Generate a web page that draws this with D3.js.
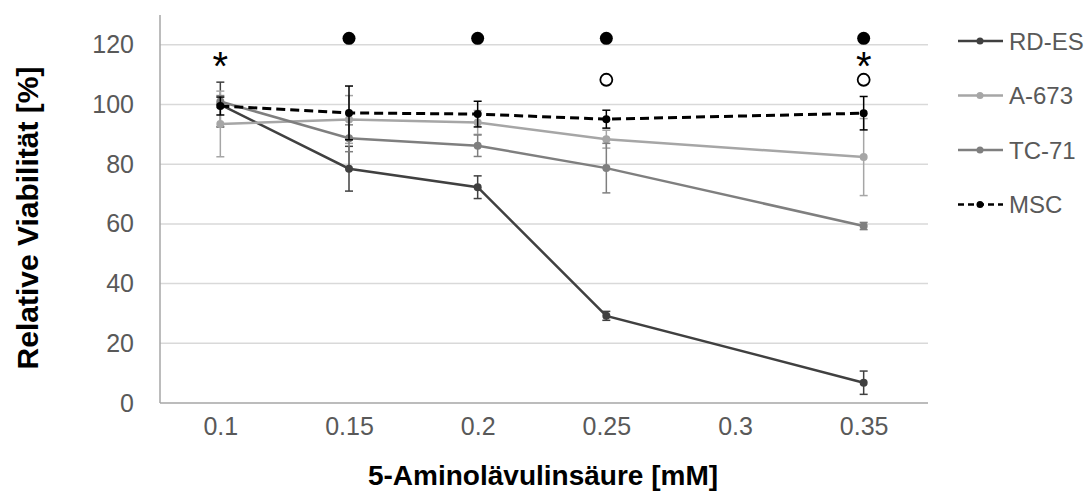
<!DOCTYPE html>
<html>
<head>
<meta charset="utf-8">
<script src="https://cdn.jsdelivr.net/npm/d3@7"></script>
<style>
  body { margin: 0; background: #fff; }
  text { font-family: "Liberation Sans", Arial, sans-serif; }
</style>
</head>
<body>
<script>
// Daten
const kategorien = ["0.1", "0.15", "0.2", "0.25", "0.3", "0.35"];
const konz = ["0.1", "0.15", "0.2", "0.25", "0.35"];

const rdes = [100, 78.5, 72.3, 29.2, 6.8];
const rdesErr = [7.5, 7.5, 3.8, 1.5, 3.9];
const a673 = [93.5, 95, 94, 88.4, 82.4];
const a673Err = [11, 8, 4, 3, 12.9];
const tc71 = [101, 88.7, 86.2, 78.7, 59.3];
const tc71Err = [2, 4.5, 3.6, 8.3, 1.2];
const msc = [99.5, 97.2, 96.8, 95.1, 97.1];
const mscErr = [3, 9, 4.3, 3, 5.6];

const yTicks = [0, 20, 40, 60, 80, 100, 120];

// Signifikanz-Markierungen
const sigVoll = ["0.15", "0.2", "0.25", "0.35"];
const sigStern = ["0.1", "0.35"];
const sigOffen = ["0.25", "0.35"];

const serien = [
  { name: "RD-ES", werte: rdes, fehler: rdesErr, farbe: "#404040", dash: null },
  { name: "A-673", werte: a673, fehler: a673Err, farbe: "#a6a6a6", dash: null },
  { name: "TC-71", werte: tc71, fehler: tc71Err, farbe: "#7f7f7f", dash: null },
  { name: "MSC", werte: msc, fehler: mscErr, farbe: "#000000", dash: "9,5" }
];

const width = 1089;
const height = 493;
const pLeft = 160, pRight = 928, pTop = 15, pBottom = 403;

const svg = d3.select("body").append("svg")
    .attr("width", width)
    .attr("height", height);

const x = d3.scalePoint()
    .domain(kategorien)
    .range([156, 928])
    .padding(0.5);

const y = d3.scaleLinear()
    .domain([0, 130])
    .range([pBottom, pTop]);

// Gitterlinien
svg.append("g")
    .selectAll("line")
    .data(yTicks.filter(d => d > 0))
    .enter().append("line")
    .attr("x1", pLeft).attr("x2", pRight)
    .attr("y1", d => y(d)).attr("y2", d => y(d))
    .attr("stroke", "#d9d9d9")
    .attr("stroke-width", 1.5);

// Y-Achse
const yAxis = svg.append("g")
    .attr("transform", `translate(${pLeft},0)`)
    .call(d3.axisLeft(y).tickValues(yTicks).tickSize(0).tickPadding(26));
yAxis.select(".domain").attr("stroke", "#a6a6a6").attr("stroke-width", 1.5)
    .attr("d", `M0,${pTop}V${pBottom}`);
yAxis.selectAll("text")
    .attr("font-size", 25)
    .attr("fill", "#595959")
    .attr("font-family", "Liberation Sans, Arial, sans-serif");

// X-Achse
const xAxis = svg.append("g")
    .attr("transform", `translate(0,${pBottom})`)
    .call(d3.axisBottom(x).tickSize(0).tickPadding(14));
xAxis.select(".domain").attr("stroke", "#a6a6a6").attr("stroke-width", 1.5)
    .attr("d", `M${pLeft},0H${pRight}`);
xAxis.selectAll("text")
    .attr("font-size", 25)
    .attr("fill", "#595959")
    .attr("font-family", "Liberation Sans, Arial, sans-serif");

// Achsentitel
svg.append("text")
    .attr("transform", "translate(38,218) rotate(-90)")
    .attr("text-anchor", "middle")
    .attr("font-size", 30)
    .attr("font-weight", "bold")
    .attr("fill", "#000")
    .text("Relative Viabilität [%]");

svg.append("text")
    .attr("x", 543)
    .attr("y", 485)
    .attr("text-anchor", "middle")
    .attr("font-size", 28)
    .attr("font-weight", "bold")
    .attr("fill", "#000")
    .text("5-Aminolävulinsäure [mM]");

const linie = d3.line()
    .x(d => x(d.k))
    .y(d => y(d.v));

serien.forEach(s => {
    const pts = konz.map((k, i) => ({ k: k, v: s.werte[i], e: s.fehler[i] }));
    const g = svg.append("g");

    // Fehlerbalken
    const eb = g.selectAll(".eb").data(pts).enter().append("g");
    eb.append("line")
        .attr("x1", d => x(d.k)).attr("x2", d => x(d.k))
        .attr("y1", d => y(d.v - d.e)).attr("y2", d => y(d.v + d.e))
        .attr("stroke", s.farbe).attr("stroke-width", 1.5);
    [-1, 1].forEach(sg => {
        eb.append("line")
            .attr("x1", d => x(d.k) - 4).attr("x2", d => x(d.k) + 4)
            .attr("y1", d => y(d.v + sg * d.e)).attr("y2", d => y(d.v + sg * d.e))
            .attr("stroke", s.farbe).attr("stroke-width", 1.5);
    });

    g.append("path")
        .datum(pts)
        .attr("d", linie)
        .attr("fill", "none")
        .attr("stroke", s.farbe)
        .attr("stroke-width", s.dash ? 3 : 2.5)
        .attr("stroke-dasharray", s.dash);

    g.selectAll("circle").data(pts).enter().append("circle")
        .attr("cx", d => x(d.k)).attr("cy", d => y(d.v))
        .attr("r", 4)
        .attr("fill", s.farbe);
});

// Signifikanz
svg.selectAll(".voll").data(sigVoll).enter().append("circle")
    .attr("cx", d => x(d)).attr("cy", y(122.2))
    .attr("r", 6.5).attr("fill", "#000");

svg.selectAll(".offen").data(sigOffen).enter().append("circle")
    .attr("cx", d => x(d)).attr("cy", y(108.3))
    .attr("r", 6).attr("fill", "none").attr("stroke", "#000").attr("stroke-width", 1.8);

svg.selectAll(".stern").data(sigStern).enter().append("text")
    .attr("x", d => x(d)).attr("y", y(115.5) + 22)
    .attr("text-anchor", "middle")
    .attr("font-size", 40)
    .attr("fill", "#000")
    .text("*");

// Legende
const legende = svg.append("g");
serien.forEach((s, i) => {
    const ly = 41 + i * 54.5;
    legende.append("line")
        .attr("x1", 958).attr("x2", 1003)
        .attr("y1", ly).attr("y2", ly)
        .attr("stroke", s.farbe).attr("stroke-width", 2.5)
        .attr("stroke-dasharray", s.dash ? "6,4" : null);
    legende.append("circle")
        .attr("cx", 980).attr("cy", ly).attr("r", 3.5)
        .attr("fill", s.farbe);
    legende.append("text")
        .attr("x", 1009).attr("y", ly + 8.5)
        .attr("font-size", 24)
        .attr("fill", "#595959")
        .text(s.name);
});
</script>
</body>
</html>
